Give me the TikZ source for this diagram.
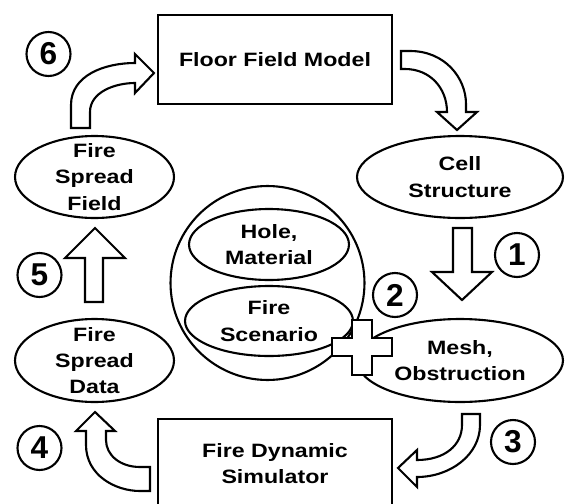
\documentclass[tikz,border=0pt]{standalone}
\usepackage{fontspec}
\setmainfont{Liberation Sans}[FakeStretch=1.2]
\newfontfamily\numfont{Liberation Sans}
\usetikzlibrary{shapes.geometric}

\begin{document}
\begin{tikzpicture}[
        x=0.02cm, y=-0.02cm,
        line width=1.2pt,
        font=\fontsize{11}{15}\selectfont\bfseries,
        box/.style={
            draw,
            minimum width=4.68cm,
            minimum height=1.78cm,
            align=center,
            inner sep=0pt
        },
        oval/.style={draw, ellipse, inner sep=0pt},
        txt/.style={align=center, inner sep=0pt},
        num/.style={
            draw,
            circle,
            minimum size=0.88cm,
            inner sep=0pt,
            font=\numfont\bfseries\fontsize{18}{18}\selectfont
        },
        fatarrow/.style={draw, fill=white, line join=miter}
    ]

        \useasboundingbox (0,0) rectangle (565,504);

        % ---- Boxes ----
        \node[box] (ffm) at (275,59.5) {Floor Field Model};
        \node[box] (fds) at (275,463.5) {Fire Dynamic\\Simulator};

        % ---- Ellipses ----
        \node[oval, minimum width=4.12cm, minimum height=1.64cm] (cell) at (460,177) {};
        \node[txt] (cellT) at (cell) {Cell\\Structure};

        \node[oval, minimum width=4.12cm, minimum height=1.66cm] (mesh) at (460,360.5) {};
        \node[txt] (meshT) at (mesh) {Mesh,\\Obstruction};

        \node[oval, minimum width=3.18cm, minimum height=1.64cm] (field) at (94.5,177) {};
        \node[txt] (fieldT) at (field) {Fire\\Spread\\Field};

        \node[oval, minimum width=3.18cm, minimum height=1.66cm] (data) at (94.5,360.5) {};
        \node[txt] (dataT) at (data) {Fire\\Spread\\Data};

        % ---- Input group ----
        \node[draw, circle, minimum size=3.88cm, inner sep=0pt] (input) at (267.5,283) {};
        \node[oval, minimum width=3.2cm, minimum height=1.42cm] (hole) at (269,244.5) {};
        \node[txt] (holeT) at (hole) {Hole,\\Material};
        \node[oval, minimum width=3.36cm, minimum height=1.4cm] (scen) at (269,321) {};
        \node[txt] (scenT) at (scen) {Fire\\Scenario};

        % ---- Step numbers ----
        \node[num] (n1) at (517,255) {1};
        \node[num] (n2) at (395,295) {2};
        \node[num] (n3) at (513,442) {3};
        \node[num] (n4) at (39.5,448) {4};
        \node[num] (n5) at (39.5,275) {5};
        \node[num] (n6) at (48.5,54) {6};

        % ---- Block arrows ----
        % ffm -> cell
        \draw[fatarrow] (401,51) -- (410,51) .. controls (445,51) and (466,78) .. (466,104)
            -- (466,112) -- (477,112) -- (457,130) -- (437,112) -- (447,112)
            .. controls (447,88) and (430,69) .. (405,69) -- (401,69) -- cycle;
        % cell -> mesh
        \draw[fatarrow] (453,228) -- (472,228) -- (472,272) -- (492,272) -- (462,300)
            -- (432,272) -- (453,272) -- cycle;
        % mesh -> fds
        \draw[fatarrow] (462,414) -- (480,414) -- (480,425) .. controls (480,455) and (450,477) .. (417,477)
            -- (417,487) -- (398,468) -- (417,450) -- (417,460)
            .. controls (445,460) and (462,445) .. (462,425) -- cycle;
        % fds -> data
        \draw[fatarrow] (150,467) -- (140,467) .. controls (120,467) and (106,455) .. (106,440)
            -- (106,431) -- (115,431) -- (95,412) -- (76,431) -- (86,431) -- (86,445)
            .. controls (86,475) and (115,491) .. (140,491) -- (150,491) -- cycle;
        % data -> field
        \draw[fatarrow] (85,302) -- (103,302) -- (103,258) -- (125,258) -- (95,228)
            -- (65,258) -- (85,258) -- cycle;
        % field -> ffm
        \draw[fatarrow] (71,128) -- (71,105) .. controls (71,75) and (105,63) .. (135,63)
            -- (135,54) -- (154,73) -- (135,93) -- (135,83)
            .. controls (115,83) and (90,92) .. (90,112) -- (90,128) -- cycle;

        % ---- Plus ----
        \draw[fatarrow] (352,320) -- (372,320) -- (372,338) -- (392,338) -- (392,356)
            -- (372,356) -- (372,375) -- (352,375) -- (352,356) -- (332,356)
            -- (332,338) -- (352,338) -- cycle;

    \end{tikzpicture}
\end{document}
